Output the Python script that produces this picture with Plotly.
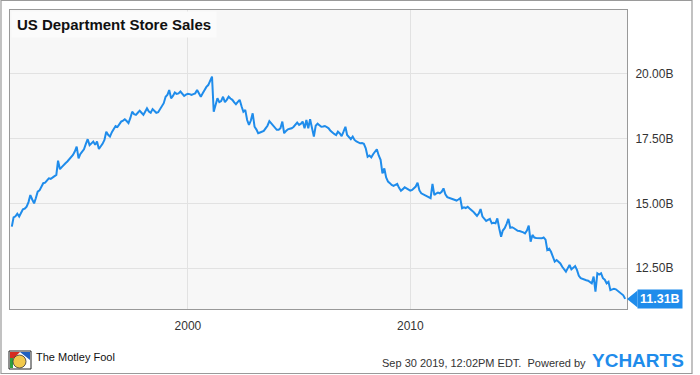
import pandas as pd
import plotly.graph_objects as go

title_text = "US Department Store Sales"
start_month = "1992-01-01"

sales_1992 = [14.10, 14.46, 14.50, 14.60, 14.49, 14.62, 14.77, 14.80, 14.87, 15.05, 15.32, 15.15]
sales_1993 = [15.00, 15.20, 15.45, 15.50, 15.62, 15.78, 15.80, 15.90, 15.97, 15.95, 16.00, 16.06]
sales_1994 = [16.10, 16.65, 16.32, 16.40, 16.50, 16.55, 16.62, 16.70, 16.78, 16.87, 17.00, 17.19]
sales_1995 = [16.74, 16.90, 17.00, 17.09, 17.30, 17.48, 17.25, 17.32, 17.39, 17.26, 17.39, 17.10]
sales_1996 = [17.20, 17.30, 17.45, 17.77, 17.65, 17.58, 17.75, 17.85, 17.99, 17.95, 18.05, 18.16]
sales_1997 = [18.20, 18.25, 18.18, 18.10, 18.30, 18.54, 18.45, 18.42, 18.50, 18.58, 18.50, 18.42]
sales_1998 = [18.55, 18.67, 18.55, 18.50, 18.64, 18.58, 18.50, 18.52, 18.64, 18.75, 18.87, 19.12]
sales_1999 = [19.20, 19.38, 19.06, 19.15, 19.28, 19.23, 19.25, 19.32, 19.25, 19.15, 19.20, 19.23]
sales_2000 = [19.22, 19.19, 19.22, 19.25, 19.38, 19.25, 19.12, 19.25, 19.38, 19.50, 19.57, 19.75]
sales_2001 = [19.90, 18.54, 18.85, 19.06, 18.91, 18.95, 19.12, 18.91, 19.00, 19.12, 19.05, 19.00]
sales_2002 = [18.90, 18.83, 18.92, 19.00, 18.75, 18.54, 18.61, 18.22, 18.03, 18.20, 18.48, 17.96]
sales_2003 = [17.85, 17.71, 17.74, 17.77, 17.80, 17.90, 18.00, 18.18, 18.10, 18.03, 17.95, 17.84]
sales_2004 = [17.84, 17.90, 18.16, 17.71, 17.80, 17.86, 17.88, 17.90, 17.95, 18.03, 18.12, 18.03]
sales_2005 = [18.08, 18.16, 17.90, 18.22, 17.90, 18.25, 17.84, 17.58, 18.00, 18.08, 18.02, 17.96]
sales_2006 = [17.97, 17.99, 17.95, 17.90, 17.80, 17.73, 17.68, 17.64, 17.77, 17.70, 17.60, 17.77]
sales_2007 = [17.96, 17.64, 17.55, 17.48, 17.58, 17.45, 17.39, 17.35, 17.32, 17.33, 17.30, 17.13]
sales_2008 = [16.80, 16.85, 16.78, 16.90, 17.00, 17.09, 16.85, 16.68, 16.16, 16.35, 16.00, 15.84]
sales_2009 = [15.78, 15.71, 15.68, 15.72, 15.75, 15.60, 15.49, 15.55, 15.62, 15.58, 15.52, 15.49]
sales_2010 = [15.52, 15.58, 15.65, 15.80, 15.50, 15.39, 15.35, 15.32, 15.28, 15.22, 15.20, 15.75]
sales_2011 = [15.32, 15.38, 15.42, 15.39, 15.45, 15.58, 15.35, 15.24, 15.22, 15.20, 15.16, 15.14]
sales_2012 = [15.11, 15.15, 15.20, 14.81, 14.85, 14.82, 14.87, 14.80, 14.75, 14.68, 14.60, 14.52]
sales_2013 = [14.62, 14.78, 14.49, 14.40, 14.32, 14.36, 14.40, 14.23, 14.25, 14.23, 14.42, 14.04]
sales_2014 = [13.71, 13.95, 14.04, 14.20, 14.40, 14.06, 14.08, 14.04, 13.98, 13.94, 13.93, 13.91]
sales_2015 = [13.88, 13.84, 13.95, 14.14, 13.52, 13.78, 13.68, 13.66, 13.65, 13.64, 13.65, 13.68]
sales_2016 = [13.60, 13.20, 13.25, 13.13, 12.95, 12.75, 12.81, 12.75, 12.68, 12.55, 12.45, 12.36]
sales_2017 = [12.50, 12.62, 12.45, 12.52, 12.58, 12.43, 12.20, 12.11, 12.08, 12.04, 12.03, 12.01]
sales_2018 = [11.96, 11.91, 12.17, 11.59, 12.30, 12.25, 12.30, 12.11, 12.05, 11.91, 11.97, 11.65]
sales_2019 = [11.68, 11.70, 11.68, 11.62, 11.59, 11.53, 11.45, 11.31]

y_tick_values = [12.5, 15.0, 17.5, 20.0]
y_tick_labels = ["12.50B", "15.00B", "17.50B", "20.00B"]
x_tick_labels = ["2000", "2010"]
footer_date = "Sep 30 2019, 12:02PM EDT.  Powered by"

values = (sales_1992 + sales_1993 + sales_1994 + sales_1995 + sales_1996 + sales_1997
          + sales_1998 + sales_1999 + sales_2000 + sales_2001 + sales_2002 + sales_2003
          + sales_2004 + sales_2005 + sales_2006 + sales_2007 + sales_2008 + sales_2009
          + sales_2010 + sales_2011 + sales_2012 + sales_2013 + sales_2014 + sales_2015
          + sales_2016 + sales_2017 + sales_2018 + sales_2019)
dates = pd.date_range(start_month, periods=len(values), freq="MS") + pd.offsets.MonthEnd(0)

BLUE = "#1f8ceb"
FONT = "Arial, Liberation Sans, Helvetica, sans-serif"
Y_RANGE = [10.92, 22.47]

fig = go.Figure()
fig.add_trace(go.Scatter(x=dates, y=values, mode="lines",
                         line=dict(color=BLUE, width=2), hoverinfo="skip",
                         showlegend=False))

last_val = values[-1]
last_paper_y = (last_val - Y_RANGE[0]) / (Y_RANGE[1] - Y_RANGE[0])

fig.update_layout(
    width=700, height=375,
    margin=dict(l=10, r=73, t=10, b=66),
    paper_bgcolor="white", plot_bgcolor="#f7f7f7",
    font=dict(family=FONT, size=12, color="#333333"),
    xaxis=dict(range=["1992-01-01", "2019-09-30"],
               tickvals=[pd.Timestamp(t + "-01-01") for t in x_tick_labels],
               ticktext=x_tick_labels,
               showgrid=True, gridcolor="#e2e2e2", gridwidth=1,
               showline=True, linecolor="#999999", linewidth=1, mirror=True,
               ticks="", ticklabelstandoff=6, zeroline=False,
               tickfont=dict(size=12, color="#333333")),
    yaxis=dict(range=Y_RANGE, side="right", tickvals=y_tick_values,
               ticktext=y_tick_labels,
               showgrid=True, gridcolor="#e2e2e2", gridwidth=1,
               showline=True, linecolor="#999999", linewidth=1, mirror=True,
               ticks="", ticklabelstandoff=5, zeroline=False,
               tickfont=dict(size=12, color="#333333")),
)

# title box
fig.add_annotation(xref="paper", yref="paper", x=0, y=1, xanchor="left", yanchor="top",
                   text="<b>" + title_text + "</b>", showarrow=False,
                   font=dict(size=15, color="#111111", family=FONT),
                   bgcolor="#fbfbfb", borderpad=4, xshift=1, yshift=-1,
                   width=196, align="center")

# last value label
fig.add_annotation(xref="paper", yref="y", x=1, y=last_val, xanchor="left", yanchor="middle",
                   text="<b>%.2fB</b>" % last_val, showarrow=False, xshift=10,
                   font=dict(size=12.5, color="white", family=FONT),
                   bgcolor=BLUE, borderpad=2)
fig.add_shape(type="path", xref="paper", yref="paper", xsizemode="pixel", ysizemode="pixel",
              xanchor=1, yanchor=last_paper_y,
              path="M 0,0 L 10.5,8.5 L 10.5,-8.5 Z", fillcolor=BLUE, line=dict(width=0))


def px(xp):
    return (xp - 10) / 617.0


def py(yp):
    return (309 - yp) / 299.0


# outer border
fig.add_shape(type="rect", xref="paper", yref="paper",
              x0=px(1), x1=px(692), y0=py(373.5), y1=py(0.5),
              line=dict(color="#9a9a9a", width=1.2), fillcolor="rgba(0,0,0,0)", layer="above")

# Motley Fool logo (simple jester block)
fig.add_shape(type="rect", xref="paper", yref="paper", x0=px(9), x1=px(31), y0=py(369), y1=py(351),
              fillcolor="white", line=dict(color="#222222", width=1))
fig.add_shape(type="path", xref="paper", yref="paper",
              path="M %f,%f L %f,%f L %f,%f Z" % (px(10), py(352), px(20), py(352), px(10), py(362)),
              fillcolor="#d62d20", line=dict(width=0))
fig.add_shape(type="path", xref="paper", yref="paper",
              path="M %f,%f L %f,%f L %f,%f Z" % (px(20), py(352), px(30), py(352), px(30), py(360)),
              fillcolor="#1f5fbf", line=dict(width=0))
fig.add_shape(type="rect", xref="paper", yref="paper", x0=px(10), x1=px(13), y0=py(368), y1=py(358),
              fillcolor="#2e9e3e", line=dict(width=0))
fig.add_shape(type="circle", xref="paper", yref="paper", x0=px(13), x1=px(26), y0=py(368), y1=py(355),
              fillcolor="#f2c94c", line=dict(color="#333333", width=0.8))

fig.add_annotation(xref="paper", yref="paper", x=px(34), y=py(357), xanchor="left", yanchor="middle",
                   text="The Motley Fool", showarrow=False,
                   font=dict(size=11, color="#111111", family=FONT))
fig.add_annotation(xref="paper", yref="paper", x=px(588), y=py(363), xanchor="right", yanchor="middle",
                   text=footer_date, showarrow=False,
                   font=dict(size=11, color="#333333", family=FONT))
fig.add_annotation(xref="paper", yref="paper", x=px(590), y=py(360), xanchor="left", yanchor="middle",
                   text="<b>YCHARTS</b>", showarrow=False,
                   font=dict(size=19, color=BLUE, family=FONT))

fig.write_html("out.html", config={"displayModeBar": False},
               post_script="document.body.style.margin='0';document.body.style.padding='0';")
